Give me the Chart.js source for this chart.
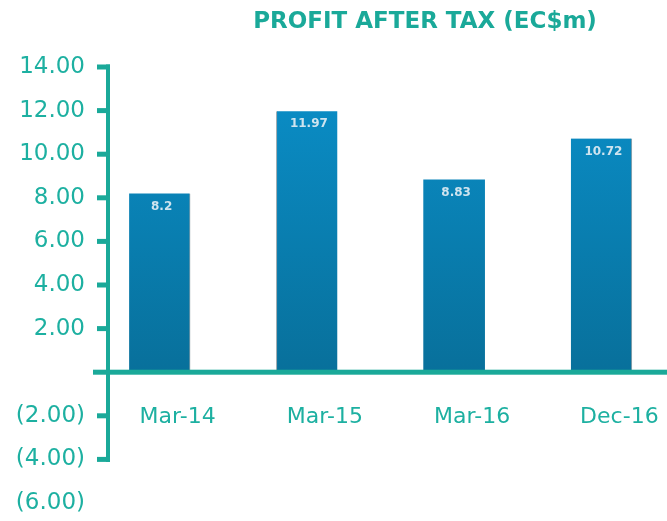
<!DOCTYPE html>
<html>
<head>
<meta charset="utf-8">
<script src="https://cdn.jsdelivr.net/npm/chart.js@4/dist/chart.umd.min.js"></script>
<style>
  html, body { margin: 0; padding: 0; background: #ffffff; }
  #wrap { width: 667px; height: 521px; }
</style>
</head>
<body>
<div id="wrap"><canvas id="profitChart" width="667" height="521"></canvas></div>
<script>
// Profit after tax bar chart

var categories = ['Mar-14', 'Mar-15', 'Mar-16', 'Dec-16'];
var profitValues = [8.2, 11.97, 8.83, 10.72];
var valueLabels = ['8.2', '11.97', '8.83', '10.72'];
var yTickValues = [-6, -4, -2, 0, 2, 4, 6, 8, 10, 12, 14];
var titleText = 'PROFIT AFTER TAX (EC$m)';

var TEAL = '#1aa999';
var TEAL_TEXT = '#1db0a1';
var FONT = '"DejaVu Sans", sans-serif';

function formatTick(v) {
  if (v === 0) return '';
  if (v < 0) return '(' + Math.abs(v).toFixed(2) + ')';
  return v.toFixed(2);
}

function barFill(context) {
  var chart = context.chart;
  var area = chart.chartArea;
  if (!area) return '#0a84b8';
  var yScale = chart.scales.y;
  var g = chart.ctx.createLinearGradient(0, yScale.getPixelForValue(12), 0, yScale.getPixelForValue(0));
  g.addColorStop(0, '#0a8bc3');
  g.addColorStop(1, '#08709b');
  return g;
}

var axisPlugin = {
  id: 'axisPlugin',
  afterLayout: function (chart) {
    // the bars sit a little wider apart than the plot area allows
    var x = chart.scales.x;
    x.right = chart.chartArea.left + 589;
    x.width = 589;
    x.configure();
  },
  afterDatasetsDraw: function (chart) {
    var ctx = chart.ctx;
    var yScale = chart.scales.y;
    var xScale = chart.scales.x;
    var left = chart.chartArea.left;
    var axisX = left + 20;
    ctx.save();
    ctx.fillStyle = TEAL;

    // vertical axis from 14 down to -4
    var yTop = yScale.getPixelForValue(14);
    var yBot = yScale.getPixelForValue(-4);
    ctx.fillRect(axisX, yTop - 2.5, 4, yBot - yTop + 5);

    // tick marks
    for (var i = 0; i < yTickValues.length; i++) {
      var v = yTickValues[i];
      if (v === 0 || v < -4) continue;
      var py = yScale.getPixelForValue(v);
      ctx.fillRect(axisX - 9, py - 2.5, 13, 5);
    }

    // zero line
    var zeroY = yScale.getPixelForValue(0);
    ctx.fillRect(left + 7, zeroY - 2.5, chart.width - left - 7, 5);

    // value labels in bars
    var meta = chart.getDatasetMeta(0);
    ctx.fillStyle = '#cfe4ef';
    ctx.font = 'bold 12px ' + FONT;
    ctx.textAlign = 'center';
    ctx.textBaseline = 'middle';
    for (var j = 0; j < meta.data.length; j++) {
      var bar = meta.data[j];
      ctx.fillText(valueLabels[j], bar.x + 2, bar.y + 13);
    }

    // category labels under the zero line
    ctx.fillStyle = TEAL_TEXT;
    ctx.font = '22px ' + FONT;
    for (var k = 0; k < categories.length; k++) {
      ctx.fillText(categories[k], xScale.getPixelForValue(k) + 18, zeroY + 45);
    }

    // title
    ctx.font = 'bold 23px ' + FONT;
    ctx.fillStyle = TEAL;
    ctx.fillText(titleText, 425, 22);
    ctx.restore();
  }
};

var config = {
  type: 'bar',
  data: {
    labels: categories,
    datasets: [{
      label: 'Profit after tax',
      data: profitValues,
      backgroundColor: barFill,
      borderColor: '#9aa6ab',
      borderWidth: [{ right: 1 }, { left: 1 }, 0, { right: 1 }],
      borderSkipped: false,
      barThickness: 61
    }]
  },
  options: {
    responsive: false,
    animation: false,
    layout: { padding: { top: 67, bottom: 18, left: 0, right: 0 } },
    plugins: {
      legend: { display: false },
      tooltip: { enabled: false },
      title: { display: false }
    },
    scales: {
      x: {
        display: false
      },
      y: {
        min: -6,
        max: 14,
        afterBuildTicks: function (scale) {
          scale.ticks = yTickValues.map(function (v) { return { value: v }; });
        },
        afterFit: function (scale) { scale.width = 86; },
        grid: { display: false, drawTicks: false },
        border: { display: false },
        ticks: {
          padding: 1,
          color: TEAL_TEXT,
          font: { family: FONT, size: 23 },
          callback: formatTick
        }
      }
    }
  },
  plugins: [axisPlugin]
};

new Chart(document.getElementById('profitChart').getContext('2d'), config);
</script>
</body>
</html>
